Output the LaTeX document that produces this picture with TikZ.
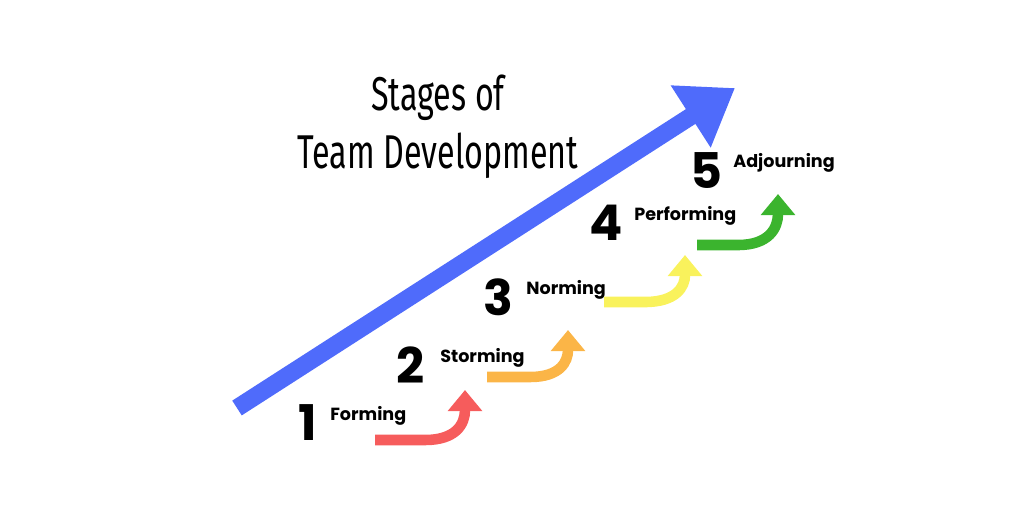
\documentclass[tikz,border=0pt]{standalone}
\usepackage{fontspec}
\newfontfamily\stagefont{Poppins}
\newfontfamily\titlefont[FakeStretch=0.68]{Fira Sans}
\usetikzlibrary{arrows.meta, positioning}
\definecolor{bigblue}{HTML}{4F6BFB}
\definecolor{redstep}{HTML}{F65C5C}
\definecolor{orangestep}{HTML}{FBB547}
\definecolor{yellowstep}{HTML}{F9F25C}
\definecolor{greenstep}{HTML}{3BB42E}
\begin{document}
\begin{tikzpicture}[x=0.02cm, y=-0.02cm,
    num/.style={font=\stagefont\fontsize{28}{28}\selectfont\bfseries, inner sep=0pt},
    stage/.style={font=\stagefont\fontsize{10}{12}\selectfont\bfseries, inner sep=0pt, anchor=west},
    steparrow/.style={line width=6pt, -{Triangle[length=12pt, width=19pt]}}
]
    \useasboundingbox (0,0) rectangle (1024,512);
    % title
    \node[font=\titlefont\fontsize{27}{33}\selectfont, align=center] (title) at (438,127) {Stages of\\Team Development};
    % big arrow
    \coordinate (bstart) at (237,408);
    \coordinate (bend) at (735,88);
    \draw[bigblue, line width=10pt, -{Triangle[length=30pt, width=40pt]}] (bstart) -- (bend);
    % stages
    \node[num] (n1) at (308,423) {1};
    \node[stage] (s1) at (330,416) {Forming};
    \node[num] (n2) at (411,365) {2};
    \node[stage] (s2) at (440,358) {Storming};
    \node[num] (n3) at (498,297) {3};
    \node[stage] (s3) at (526,290) {Norming};
    \node[num] (n4) at (606,223) {4};
    \node[stage] (s4) at (634,216) {Performing};
    \node[num] (n5) at (706,171) {5};
    \node[stage] (s5) at (733,163) {Adjourning};
    % step arrows
    \coordinate (r1) at (375,440); \coordinate (r2) at (465,390);
    \coordinate (o1) at (487,377); \coordinate (o2) at (568,330);
    \coordinate (y1) at (604,302); \coordinate (y2) at (685,255);
    \coordinate (g1) at (697,245); \coordinate (g2) at (778,194);
    \draw[redstep, steparrow] (r1) -- (425,440) .. controls (455,440) and (465,425) .. (r2);
    \draw[orangestep, steparrow] (o1) -- (530,377) .. controls (560,377) and (568,362) .. (o2);
    \draw[yellowstep, steparrow] (y1) -- (645,302) .. controls (676,302) and (685,287) .. (y2);
    \draw[greenstep, steparrow] (g1) -- (738,245) .. controls (769,245) and (778,228) .. (g2);
\end{tikzpicture}
\end{document}
